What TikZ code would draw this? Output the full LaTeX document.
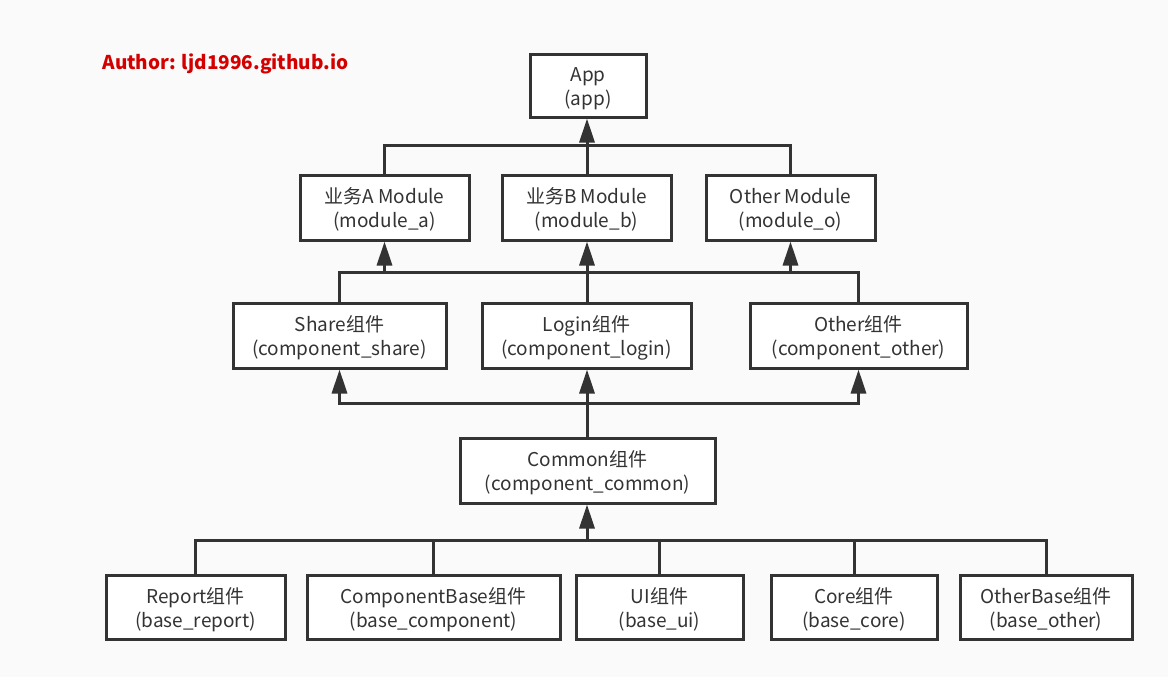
\documentclass[tikz,border=0pt]{standalone}
\usepackage{fontspec}
\setmainfont{Noto Sans CJK SC}
\usetikzlibrary{arrows.meta}
\definecolor{ink}{HTML}{333333}
\definecolor{bg}{HTML}{FAFAFA}
\definecolor{author}{HTML}{D40000}
\newcommand\twoline[2]{\rule{0pt}{20pt}#1\\#2}
\begin{document}
\begin{tikzpicture}[x=1pt,y=-1pt,
  box/.style={draw=ink,line width=3pt,fill=white,text=ink,align=center,
    inner sep=0pt,font=\fontsize{19}{24}\selectfont},
  link/.style={draw=ink,line width=3pt},
  arr/.style={link,-{Triangle[length=24pt,width=15pt]}}]
\fill[bg] (0,0) rectangle (1168,677);
\useasboundingbox (0,0) rectangle (1168,677);
\node[anchor=west,text=author,font=\fontsize{19}{22}\selectfont\bfseries] (author) at (99,64) {Author: ljd1996.github.io};
% row 1
\node[box,minimum width=116pt,minimum height=62pt] (app) at (588,86) {\twoline{App}{(app)}};
% row 2
\node[box,minimum width=169pt,minimum height=65pt] (ma) at (384.5,207.5) {\twoline{业务A Module}{(module\_a)}};
\node[box,minimum width=169pt,minimum height=65pt] (mb) at (586.5,207.5) {\twoline{业务B Module}{(module\_b)}};
\node[box,minimum width=169pt,minimum height=65pt] (mo) at (790.5,207.5) {\twoline{Other Module}{(module\_o)}};
% row 3
\node[box,minimum width=213pt,minimum height=65pt] (share) at (339.5,335.5) {\twoline{Share组件}{(component\_share)}};
\node[box,minimum width=209pt,minimum height=65pt] (login) at (586.5,335.5) {\twoline{Login组件}{(component\_login)}};
\node[box,minimum width=217pt,minimum height=65pt] (other) at (858.5,335.5) {\twoline{Other组件}{(component\_other)}};
% row 4
\node[box,minimum width=255pt,minimum height=65pt] (common) at (587.5,470.5) {\twoline{Common组件}{(component\_common)}};
% row 5
\node[box,minimum width=179pt,minimum height=64pt] (report) at (195.5,607.5) {\twoline{Report组件}{(base\_report)}};
\node[box,minimum width=253pt,minimum height=64pt] (cbase) at (433.5,607.5) {\twoline{ComponentBase组件}{(base\_component)}};
\node[box,minimum width=167pt,minimum height=64pt] (ui) at (659.5,607.5) {\twoline{UI组件}{(base\_ui)}};
\node[box,minimum width=166pt,minimum height=64pt] (core) at (854,607.5) {\twoline{Core组件}{(base\_core)}};
\node[box,minimum width=172pt,minimum height=64pt] (obase) at (1046,607.5) {\twoline{OtherBase组件}{(base\_other)}};
% junctions
\coordinate (j1) at (587,145);
\coordinate (j2) at (587,272);
\coordinate (j3) at (587,403);
\coordinate (j4) at (587,540);
% modules -> app
\draw[link] (ma.north) |- (j1);
\draw[link] (mo.north) |- (j1);
\draw[arr] (mb.north -| j1) -- (app.south -| j1);
% components -> modules
\draw[link] (share.north) |- (j2);
\draw[link] (other.north) |- (j2);
\draw[arr] (login.north -| j2) -- (mb.south -| j2);
\draw[arr] (j2) -| (ma.south);
\draw[arr] (j2) -| (mo.south);
% common -> components
\draw[arr] (common.north -| j3) -- (login.south -| j3);
\draw[arr] (j3) -| (share.south);
\draw[arr] (j3) -| (other.south);
% base -> common
\draw[link] (report.north) |- (j4);
\draw[link] (cbase.north) |- (j4);
\draw[link] (ui.north) |- (j4);
\draw[link] (core.north) |- (j4);
\draw[link] (obase.north) |- (j4);
\draw[arr] (j4) -- (common.south -| j4);
\end{tikzpicture}
\end{document}
